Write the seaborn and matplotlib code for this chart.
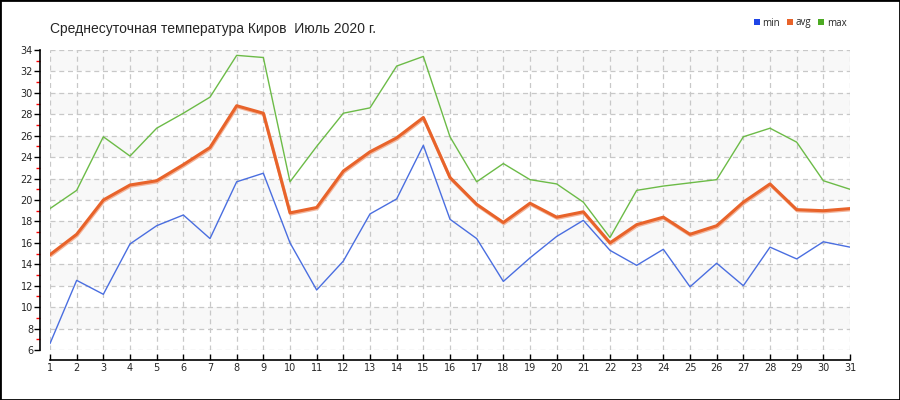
import numpy as np
import pandas as pd
import matplotlib
matplotlib.use("Agg")
import matplotlib.pyplot as plt
import matplotlib.patheffects as pe
from matplotlib.patches import Patch, Rectangle
import seaborn as sns

days = list(range(1, 32))
t_min = [6.6, 12.5, 11.2, 15.9, 17.6, 18.6, 16.4, 21.7, 22.5, 16.0,
         11.6, 14.3, 18.7, 20.1, 25.1, 18.2, 16.4, 12.4, 14.6, 16.6,
         18.1, 15.3, 13.9, 15.4, 11.9, 14.1, 12.0, 15.6, 14.5, 16.1, 15.6]
t_avg = [14.9, 16.8, 20.0, 21.4, 21.8, 23.3, 24.9, 28.8, 28.1, 18.8,
         19.3, 22.7, 24.5, 25.8, 27.7, 22.1, 19.6, 17.9, 19.7, 18.4,
         18.9, 16.0, 17.7, 18.4, 16.8, 17.6, 19.8, 21.5, 19.1, 19.0, 19.2]
t_max = [19.2, 20.9, 25.9, 24.1, 26.7, 28.1, 29.6, 33.5, 33.3, 21.7,
         25.0, 28.1, 28.6, 32.5, 33.4, 25.9, 21.7, 23.4, 21.9, 21.5,
         19.8, 16.5, 20.9, 21.3, 21.6, 21.9, 25.9, 26.7, 25.4, 21.8, 21.0]
title = "Среднесуточная температура Киров  Июль 2020 г."

df = pd.DataFrame({"day": days, "min": t_min, "avg": t_avg, "max": t_max})

sns.set_style("white")
plt.rcParams["font.family"] = ["Liberation Sans", "DejaVu Sans"]

fig = plt.figure(figsize=(9, 4), dpi=100)
ax = fig.add_axes([50 / 900, 50 / 400, 800 / 900, 300 / 400])

# alternating bands
for lo in range(8, 34, 4):
    ax.axhspan(lo, lo + 2, color="#f8f8f8", zorder=0, lw=0)

sns.lineplot(data=df, x="day", y="max", ax=ax, color="#6cbb47", lw=1.0)
sns.lineplot(data=df, x="day", y="min", ax=ax, color="#4a6ee0", lw=1.0)
sns.lineplot(data=df, x="day", y="avg", ax=ax, color="#e8632a", lw=2.2,
             path_effects=[pe.SimpleLineShadow(offset=(0.4, -0.9), shadow_color="#f3b49a", alpha=1.0),
                           pe.Normal()])

ax.set_xlim(1, 31)
ax.set_ylim(6, 34)
ax.set_xticks(days)
ax.set_yticks(range(6, 35, 2))
ax.set_yticks(range(7, 34, 2), minor=True)
ax.set_xlabel("")
ax.set_ylabel("")

ax.grid(True, which="major", color="#c8c8c8", lw=0.9, linestyle=(0, (4, 3)))
ax.set_axisbelow(True)

for s in ["top", "right"]:
    ax.spines[s].set_visible(False)
ax.spines["left"].set_position(("outward", 7.2))
ax.spines["bottom"].set_position(("outward", 7.2))
ax.spines["left"].set_bounds(6, 34)
ax.spines["left"].set_color("black")
ax.spines["bottom"].set_color("black")
ax.spines["bottom"].set_linewidth(1.2)
ax.spines["left"].set_linewidth(1.2)

ax.tick_params(axis="y", which="major", direction="out", length=4, width=1,
               color="black", labelsize=7, pad=1, left=True)
ax.tick_params(axis="y", which="minor", direction="out", length=3, width=1,
               color="red", left=True)
ax.tick_params(axis="x", which="major", direction="in", length=4, width=1,
               color="black", labelsize=7, pad=2, bottom=True)
for lab in ax.get_xticklabels() + ax.get_yticklabels():
    lab.set_family(["DejaVu Sans"])

fig.text(50 / 900, 1 - 33 / 400, title, fontsize=10, va="baseline", ha="left")

handles = [Patch(facecolor="#1f45e6", edgecolor="none", label="min"),
           Patch(facecolor="#e8632a", edgecolor="none", label="avg"),
           Patch(facecolor="#4caa22", edgecolor="none", label="max")]
fig.legend(handles=handles, loc="center left", bbox_to_anchor=(749 / 900, 1 - 23 / 400),
           ncol=3, frameon=False, handlelength=0.6, handleheight=0.6,
           handletextpad=0.3, columnspacing=0.7, borderpad=0,
           prop={"family": "Open Sans", "size": 7})

fig.patches.append(Rectangle((0, 0), 1, 1, transform=fig.transFigure, fill=False,
                             edgecolor="black", lw=2))

fig.savefig("out.png", dpi=100)
